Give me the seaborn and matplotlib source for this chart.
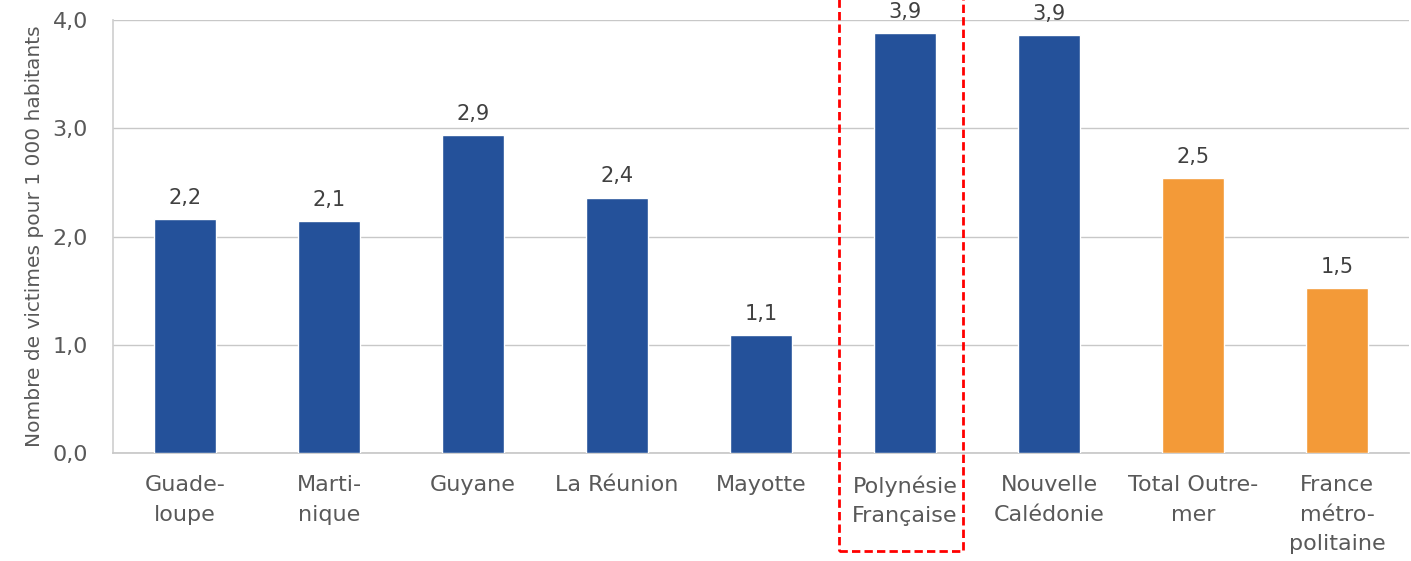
"""Victimes pour 1 000 habitants - outre-mer vs metropole"""
import matplotlib
matplotlib.use("Agg")
import matplotlib.pyplot as plt
import matplotlib.transforms as mtransforms
from matplotlib.patches import Rectangle
import pandas as pd
import seaborn as sns

territoires = ['Guade-\nloupe', 'Marti-\nnique', 'Guyane', 'La Réunion', 'Mayotte',
               'Polynésie\nFrançaise', 'Nouvelle\nCalédonie', 'Total Outre-\nmer',
               'France\nmétro-\npolitaine']
taux = [2.16, 2.14, 2.94, 2.36, 1.09, 3.88, 3.86, 2.54, 1.52]
groupe = ['dom', 'dom', 'dom', 'dom', 'dom', 'dom', 'dom', 'total', 'total']
y_ticks = [0, 1, 2, 3, 4]

df = pd.DataFrame({'territoire': territoires, 'taux': taux, 'groupe': groupe})

sns.set_theme(style='white')
plt.rcParams['font.family'] = ['DejaVu Sans']

grey_txt = '#595959'
fig = plt.figure(figsize=(14.11, 5.61), dpi=100)
ax = fig.add_axes([0.0801, 0.1925, 0.9185, 0.7718])

sns.barplot(data=df, x='territoire', y='taux', hue='groupe',
            palette={'dom': '#24519A', 'total': '#F39A38'}, saturation=1,
            dodge=False, width=0.43, legend=False, ax=ax, zorder=3)

# etiquettes de valeurs
for cont in ax.containers:
    ax.bar_label(cont, labels=[f'{v:.1f}'.replace('.', ',') for v in cont.datavalues],
                 padding=8, fontsize=15, color='#404040')

ax.set_ylim(0, 4)
ax.set_xlim(-0.5, 8.5)
ax.set_yticks(y_ticks)
ax.set_yticklabels([f'{t:.1f}'.replace('.', ',') for t in y_ticks], fontsize=16, color=grey_txt)
ax.set_xticks(range(len(territoires)))
ax.set_xticklabels(territoires, fontsize=16, color=grey_txt, linespacing=1.6)
ax.tick_params(axis='x', length=0, pad=16)
ax.tick_params(axis='y', length=0, pad=18)
ax.set_xlabel('')
ax.set_ylabel('Nombre de victimes pour 1 000 habitants', fontsize=14.5, color=grey_txt, labelpad=6)

ax.grid(axis='y', color='#C8C8C8', lw=1, zorder=0)
for s in ['top', 'right']:
    ax.spines[s].set_visible(False)
ax.spines['left'].set_color('#D0D0D0')
ax.spines['bottom'].set_color('#C8C8C8')

# cadre rouge autour de la Polynesie
trans = mtransforms.blended_transform_factory(ax.transData, fig.transFigure)
cadre = Rectangle((4.54, 0.018), 0.86, 1.1, transform=trans, fill=False,
                  edgecolor='#FF0000', lw=2, ls=(0, (3, 1.5)), clip_on=False)
fig.patches.append(cadre)

fig.savefig('out.png', dpi=100)
